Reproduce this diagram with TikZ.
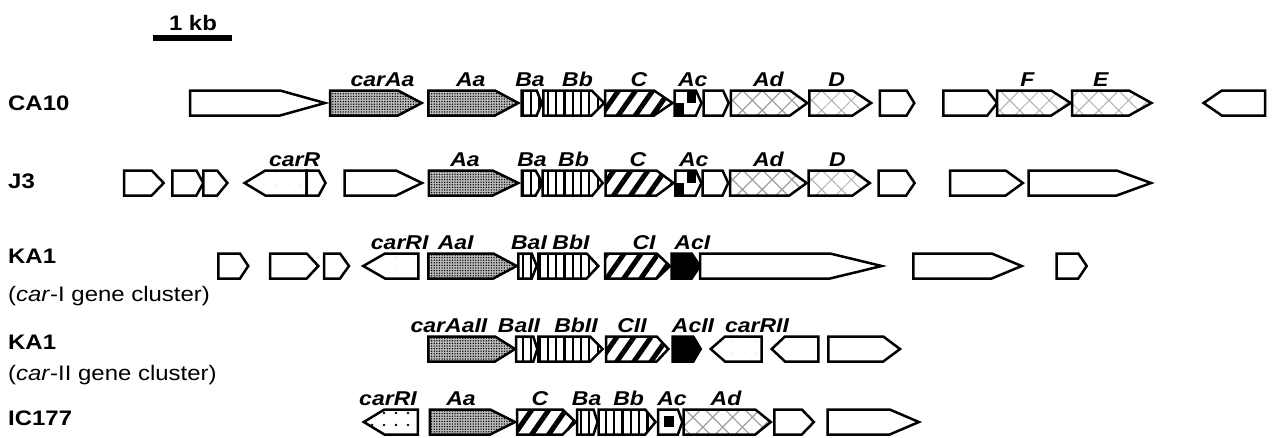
\documentclass[tikz,border=0pt]{standalone}
\usepackage{fontspec}
\setmainfont{Liberation Sans}
\newfontfamily\strainfont{Liberation Sans}[FakeStretch=1.14]
\newfontfamily\genefont{Liberation Sans}[FakeStretch=1.15]
\usetikzlibrary{patterns.meta}

\tikzset{
  gene/.style={draw=black, line width=2.5pt, line join=miter, fill=white},
  aa/.style={preaction={fill=gray!55}, pattern={Dots[distance=2.6pt, radius=0.75pt]}, pattern color=black},
  vs/.style={preaction={fill=white}, pattern={Lines[angle=90, distance=8.3pt, line width=2.2pt]}, pattern color=black},
  cs/.style={preaction={fill=white}, pattern={Lines[angle=55, distance=14pt, line width=5pt]}, pattern color=black},
  ad/.style={preaction={fill=white}, pattern={Hatch[angle=45, distance=14pt, line width=1.2pt]}, pattern color=gray!75},
  dfe/.style={preaction={fill=white}, pattern={Hatch[angle=45, distance=14pt, line width=1pt]}, pattern color=gray!60},
  faint/.style={preaction={fill=white}, pattern={Dots[distance=12pt, radius=1pt]}, pattern color=gray!15},
  dots/.style={preaction={fill=white}, pattern={Dots[distance=12pt, radius=1.4pt]}, pattern color=black},
  solid/.style={fill=black},
  glabel/.style={anchor=base, inner sep=0pt, font=\genefont\fontsize{20}{22}\selectfont\bfseries\itshape},
  slabel/.style={anchor=base west, inner sep=0pt, font=\strainfont\fontsize{21}{25}\selectfont\bfseries},
  clabel/.style={anchor=base west, inner sep=0pt, font=\strainfont\fontsize{21}{25}\selectfont},
}

% right-pointing gene: left end, start of head, tip
\newcommand\gR[4][]{\path[gene,#1] (#2,\rowy-12.5) -- (#3,\rowy-12.5) -- (#4,\rowy)
  -- (#3,\rowy+12.5) -- (#2,\rowy+12.5) -- cycle;}
% left-pointing gene: tip, end of head, right end
\newcommand\gL[4][]{\path[gene,#1] (#2,\rowy) -- (#3,\rowy-12.5) -- (#4,\rowy-12.5)
  -- (#4,\rowy+12.5) -- (#3,\rowy+12.5) -- cycle;}
% checkered carAc
\newcommand\acbox[3]{%
  \begin{scope}
    \clip (#1,\rowy-12.5) -- (#2,\rowy-12.5) -- (#3,\rowy) -- (#2,\rowy+12.5) -- (#1,\rowy+12.5) -- cycle;
    \fill[white] (#1,\rowy-12.5) rectangle (#3,\rowy+12.5);
    \fill[black] (#1,\rowy) rectangle (#1+9,\rowy+12.5);
    \fill[black] (#1+12,\rowy-12.5) rectangle (#1+21,\rowy);
  \end{scope}
  \gR[fill=none]{#1}{#2}{#3}}
% carAc with a central block
\newcommand\acdot[3]{\gR{#1}{#2}{#3}\fill[black] (#1+6,\rowy-6) rectangle (#1+16,\rowy+5);}
% gene name above a row
\newcommand\glab[3]{\node[glabel] (#1) at (#2,\rowy-16.5) {#3};}

\begin{document}
\begin{tikzpicture}[x=1pt, y=-1pt]
\useasboundingbox (0,0) rectangle (1277,437);

% scale bar
\draw[line width=6.5pt] (153,38) -- (232,38);
\node[slabel, anchor=base] (kb) at (193,30) {1 kb};

% strain names
\node[slabel] (sCA) at (8,110) {CA10};
\node[slabel] (sJ) at (8,188.5) {J3};
\node[slabel] (sKa) at (8,263) {KA1};
\node[clabel] (cKa) at (8,301.5) {(\textit{car}-I gene cluster)};
\node[slabel] (sKb) at (8,349.5) {KA1};
\node[clabel] (cKb) at (8,380.5) {(\textit{car}-II gene cluster)};
\node[slabel] (sIC) at (8,425) {IC177};

% CA10
\def\rowy{103}
\gR{190}{280}{325}
\gR[aa]{330}{398}{421.7}
\gR[aa]{428.3}{495}{518.3}
\gR[vs]{521.7}{536.7}{541.7}
\gR[vs]{543.3}{591.7}{604}
\gR[cs]{605}{654}{672.5}
\acbox{674.7}{695.9}{701.5}
\gR{703.6}{723}{728.7}
\gR[ad]{730.8}{790}{807.3}
\gR[dfe]{809.4}{852.6}{871.2}
\gR{879.8}{906.6}{914.3}
\gR{943.3}{987.3}{997.2}
\gR[dfe]{997.2}{1051.2}{1070.6}
\gR[dfe]{1072}{1129}{1151.4}
\gL{1203.6}{1221.8}{1265}
\glab{a1}{382.5}{carAa}
\glab{a2}{470.8}{Aa}
\glab{a3}{530}{Ba}
\glab{a4}{577.5}{Bb}
\glab{a5}{638.9}{C}
\glab{a6}{692.8}{Ac}
\glab{a7}{768.4}{Ad}
\glab{a8}{836.6}{D}
\glab{a9}{1027.5}{F}
\glab{a10}{1100.9}{E}

% J3
\def\rowy{183}
\gR{124}{151.7}{163.7}
\gR{172.3}{196.4}{203.3}
\gR{203.3}{217.1}{227.4}
\gL[faint]{244.6}{265.3}{306.6}
\gR{306.6}{318.7}{325.5}
\gR{344.5}{396.1}{422}
\gR[aa]{428.9}{492.6}{518.4}
\gR[vs]{521.8}{535.6}{542.5}
\gR[vs]{542.5}{592.4}{602.7}
\gR[cs]{605.7}{656.6}{673.5}
\acbox{675.4}{695.7}{701.4}
\gR{702.6}{722.5}{728.2}
\gR[ad]{730.1}{789.4}{806.7}
\gR[dfe]{808.6}{852.6}{869.8}
\gR{878.6}{906.2}{914.6}
\gR{950.2}{1005.7}{1022.9}
\gR{1028.6}{1116.6}{1151.1}
\glab{b1}{294.6}{carR}
\glab{b2}{465}{Aa}
\glab{b3}{532}{Ba}
\glab{b4}{573.5}{Bb}
\glab{b5}{638}{C}
\glab{b6}{693.8}{Ac}
\glab{b7}{768.4}{Ad}
\glab{b8}{837.3}{D}

% KA1, car-I cluster
\def\rowy{266}
\gR{218.3}{240}{248.3}
\gR{270}{306.7}{318.3}
\gR{324}{340}{349}
\gL[faint]{363.3}{385}{418.3}
\gR[aa]{428.3}{493.3}{516.7}
\gR[vs]{518.3}{531.7}{536.7}
\gR[vs]{538.3}{586.7}{598.3}
\gR[cs]{605}{656.7}{670}
\gR[solid]{671.7}{691.7}{700}
\gR{700}{830}{881.7}
\gR{913.3}{991.7}{1021.7}
\gR{1056.7}{1078.3}{1086.7}
\glab{c1}{399.7}{carRI}
\glab{c2}{455.7}{AaI}
\glab{c3}{529}{BaI}
\glab{c4}{571}{BbI}
\glab{c5}{644}{CI}
\glab{c6}{692.3}{AcI}

% KA1, car-II cluster
\def\rowy{349}
\gR[aa]{428.3}{495}{515}
\gR[vs]{516}{533.3}{537.3}
\gR[vs]{538.3}{590}{602.7}
\gR[cs]{606}{656.7}{668.3}
\gR[solid]{672.7}{693.3}{700.7}
\gL[faint]{710.7}{725}{761.7}
\gL{771.7}{785}{818.3}
\gR{828.3}{883.3}{900}
\glab{d1}{449}{carAaII}
\glab{d2}{519}{BaII}
\glab{d3}{576}{BbII}
\glab{d4}{632}{CII}
\glab{d5}{693}{AcII}
\glab{d6}{757}{carRII}

% IC177
\def\rowy{422}
\gL[dots]{363.8}{384.4}{417.9}
\gR[aa]{429.9}{490.2}{515}
\gR[cs]{517}{562.5}{575.6}
\gR[vs]{577}{593.5}{597.6}
\gR[vs]{598.7}{645.2}{655.5}
\acdot{658.2}{677.9}{682.3}
\gR[ad]{683.7}{755.3}{770.8}
\gR{774.3}{801.8}{813.9}
\gR{827.7}{889.7}{918.9}
\glab{e1}{388}{carRI}
\glab{e2}{461}{Aa}
\glab{e3}{540}{C}
\glab{e4}{586.6}{Ba}
\glab{e5}{628.7}{Bb}
\glab{e6}{672}{Ac}
\glab{e7}{726}{Ad}
\end{tikzpicture}
\end{document}
